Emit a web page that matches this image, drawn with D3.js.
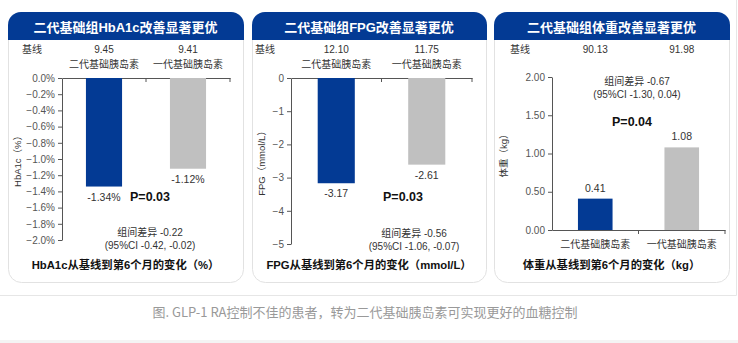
<!DOCTYPE html>
<html><head><meta charset="utf-8">
<script src="https://cdn.jsdelivr.net/npm/d3@7/dist/d3.min.js"></script>
<style>
html,body{margin:0;padding:0;background:#fff;}
svg{display:block;font-family:"Liberation Sans",Arial,"Noto Sans CJK SC",sans-serif;}
</style></head>
<body>
<svg id="c" width="738" height="343"></svg>
<script>
// ---- data ----
const categories = ["二代基础胰岛素", "一代基础胰岛素"];
const panelTitles = ["二代基础组HbA1c改善显著更优", "二代基础组FPG改善显著更优", "二代基础组体重改善显著更优"];
const bottomTitles = ["HbA1c从基线到第6个月的变化（%）", "FPG从基线到第6个月的变化（mmol/L）", "体重从基线到第6个月的变化（kg）"];
const yLabels = ["HbA1c（%）", "FPG（mmol/L）", "体重（kg）"];
const baselineLabel = "基线";
const baselineHbA1c = ["9.45", "9.41"];
const baselineFPG = ["12.10", "11.75"];
const baselineWeight = ["90.13", "91.98"];
const hba1cValues = [-1.34, -1.12];
const fpgValues = [-3.17, -2.61];
const weightValues = [0.41, 1.08];
const hba1cLabels = ["-1.34%", "-1.12%"];
const fpgLabels = ["-3.17", "-2.61"];
const weightLabels = ["0.41", "1.08"];
const hba1cTicks = [0, -0.2, -0.4, -0.6, -0.8, -1.0, -1.2, -1.4, -1.6, -1.8, -2.0];
const fpgTicks = [0, -1, -2, -3, -4, -5];
const weightTicks = [0, 0.5, 1.0, 1.5, 2.0];
const pValues = ["P=0.03", "P=0.03", "P=0.04"];
const diffText = ["组间差异 -0.22", "组间差异 -0.56", "组间差异 -0.67"];
const ciText = ["(95%CI -0.42, -0.02)", "(95%CI -1.06, -0.07)", "(95%CI -1.30, 0.04)"];
const caption = "图. GLP-1 RA控制不佳的患者，转为二代基础胰岛素可实现更好的血糖控制";

const BLUE = "#033a94", GRAY = "#c0c0c0", TXT = "#333", AX = "#555";
const svg = d3.select("#c");

// outer frame
svg.append("line").attr("x1", 0).attr("x2", 736.5).attr("y1", 295.5).attr("y2", 295.5).attr("stroke", "#e6e6e6");
svg.append("line").attr("x1", 736.5).attr("x2", 736.5).attr("y1", 0).attr("y2", 295.5).attr("stroke", "#e6e6e6");
svg.append("rect").attr("x", 0).attr("y", 340).attr("width", 738).attr("height", 3).attr("fill", "#f4f4f4");
svg.append("text").attr("x", 365).attr("y", 317).attr("text-anchor", "middle")
  .attr("font-family", "'Noto Sans CJK SC','Noto Sans',sans-serif").attr("font-size", 13).attr("fill", "#999").text(caption);

const panels = [
  {x0: 8, x1: 243, ax0: 62, ax1: 230, pad: 0.57, domain: [-2, 0], yTop: 78, yBot: 240, ticks: hba1cTicks,
   fmt: d => d3.format(".1f")(d) + "%", vals: hba1cValues, labs: hba1cLabels, base: baselineHbA1c, pos: false,
   baseX: 32, pX: 150, pY: 201, dX: 150, dY: 236},
  {x0: 252, x1: 486, ax0: 291, ax1: 472, pad: 0.59, domain: [-5, 0], yTop: 78, yBot: 244, ticks: fpgTicks,
   fmt: d => d3.format("d")(d), vals: fpgValues, labs: fpgLabels, base: baselineFPG, pos: false,
   baseX: 265, pX: 403, pY: 201, dX: 414, dY: 237},
  {x0: 494, x1: 729, ax0: 552, ax1: 725, pad: 0.6, domain: [0, 2], yTop: 77, yBot: 230, ticks: weightTicks,
   fmt: d => d3.format(".2f")(d), vals: weightValues, labs: weightLabels, base: baselineWeight, pos: true,
   baseX: 520, pX: 632, pY: 126, dX: 637, dY: 85}
];

panels.forEach((p, i) => {
  const g = svg.append("g");
  const w = p.x1 - p.x0, top = 12, bot = 282, r = 13, hh = 28;
  // panel frame
  g.append("rect").attr("x", p.x0 + 0.5).attr("y", top + 0.5).attr("width", w).attr("height", bot - top)
    .attr("rx", r).attr("fill", "#fff").attr("stroke", "#e2e2e2");
  // header
  g.append("path").attr("fill", BLUE)
    .attr("d", `M${p.x0},${top + hh} V${top + r} A${r},${r} 0 0 1 ${p.x0 + r},${top} H${p.x0 + w + 1 - r} A${r},${r} 0 0 1 ${p.x0 + w + 1},${top + r} V${top + hh} Z`);
  g.append("text").attr("x", p.x0 + w / 2).attr("y", top + 20).attr("text-anchor", "middle")
    .attr("fill", "#fff").attr("font-weight", "bold").attr("font-size", 13).text(panelTitles[i]);

  const x = d3.scaleBand().domain(categories).range([p.ax0, p.ax1]).paddingInner(p.pad).paddingOuter(p.pad / 2);
  const y = d3.scaleLinear().domain(p.domain).range([p.yBot, p.yTop]);

  // baseline row
  g.append("text").attr("x", p.baseX).attr("y", 53).attr("text-anchor", "middle").attr("font-size", 10)
    .attr("font-family", "'Noto Sans CJK SC',sans-serif").attr("fill", TXT).text(baselineLabel);
  g.selectAll(".b").data(p.base).join("text").attr("x", (d, k) => x(categories[k]) + x.bandwidth() / 2)
    .attr("y", 53).attr("text-anchor", "middle").attr("font-size", 10).attr("fill", TXT).text(d => d);

  // y axis
  const ya = g.append("g").attr("transform", `translate(${p.ax0},0)`)
    .call(d3.axisLeft(y).tickValues(p.ticks).tickFormat(p.fmt).tickSize(4).tickSizeOuter(0));
  ya.select(".domain").attr("stroke", AX);
  ya.selectAll(".tick line").attr("stroke", AX);
  ya.selectAll(".tick text").attr("font-size", 10).attr("fill", "#555").attr("font-family", "'Liberation Sans',Arial,sans-serif");

  // category axis (top for negative panels, bottom for positive)
  const zeroY = y(0);
  const xa = g.append("g").attr("transform", `translate(0,${zeroY})`)
    .call(d3.axisBottom(x).tickSize(0).tickSizeOuter(0).tickFormat(""));
  xa.select(".domain").attr("stroke", AX);
  xa.selectAll(".tick").remove();
  g.selectAll(".sep").data(categories).join("line")
    .attr("x1", d => x(d) + x.bandwidth() / 2 + x.step() / 2).attr("x2", d => x(d) + x.bandwidth() / 2 + x.step() / 2)
    .attr("y1", zeroY).attr("y2", zeroY + 4).attr("stroke", AX);

  // category labels
  const catY = p.pos ? 248 : 68;
  g.selectAll(".cl").data(categories).join("text").attr("x", d => x(d) + x.bandwidth() / 2).attr("y", catY)
    .attr("text-anchor", "middle").attr("font-size", 10).attr("font-family", "'Noto Sans CJK SC',sans-serif")
    .attr("fill", TXT).text(d => d);

  // bars
  g.selectAll(".bar").data(p.vals).join("rect")
    .attr("x", (d, k) => x(categories[k])).attr("width", x.bandwidth())
    .attr("y", d => Math.min(y(d), zeroY)).attr("height", d => Math.abs(y(d) - zeroY))
    .attr("fill", (d, k) => k === 0 ? BLUE : GRAY);

  // value labels
  g.selectAll(".vl").data(p.vals).join("text")
    .attr("x", (d, k) => x(categories[k]) + x.bandwidth() / 2)
    .attr("y", d => p.pos ? y(d) - 7 : y(d) + 14)
    .attr("text-anchor", "middle").attr("font-size", 10.5).attr("fill", TXT).text((d, k) => p.labs[k]);

  // P value
  g.append("text").attr("x", p.pX).attr("y", p.pY).attr("text-anchor", "middle").attr("font-size", 12.5)
    .attr("font-weight", "bold").attr("fill", "#111").text(pValues[i]);
  // diff
  g.append("text").attr("x", p.dX).attr("y", p.dY).attr("text-anchor", "middle").attr("font-size", 10)
    .attr("font-family", "'Liberation Sans','Noto Sans CJK SC',sans-serif").attr("fill", TXT).text(diffText[i]);
  g.append("text").attr("x", p.dX).attr("y", p.dY + 13).attr("text-anchor", "middle").attr("font-size", 10)
    .attr("fill", TXT).text(ciText[i]);

  // y label
  const yl = (p.yTop + p.yBot) / 2;
  g.append("text").attr("transform", `translate(${p.x0 + 13},${yl}) rotate(-90)`).attr("text-anchor", "middle")
    .attr("font-size", 9.5).attr("fill", TXT).text(yLabels[i]);

  // bottom title
  g.append("text").attr("x", p.x0 + w / 2).attr("y", 269).attr("text-anchor", "middle").attr("font-size", 11.3)
    .attr("font-weight", "bold").attr("fill", "#111").text(bottomTitles[i]);
});
</script>
</body></html>
